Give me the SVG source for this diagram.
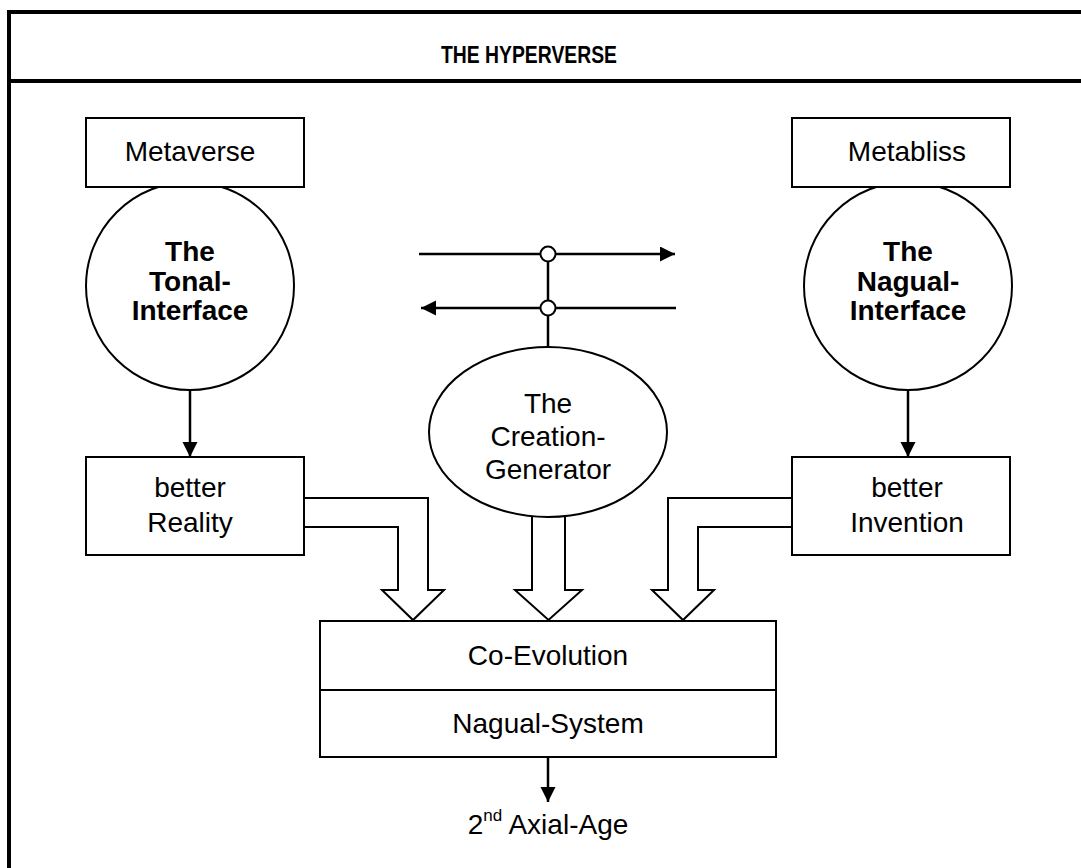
<svg xmlns="http://www.w3.org/2000/svg" width="1081" height="868" viewBox="0 0 1081 868">
<style>
text{font-family:"Liberation Sans",Arial,sans-serif;font-size:28px;fill:#000;text-anchor:middle}
.b{font-weight:bold}
.t{font-weight:bold;font-size:23px}
.box{fill:#fff;stroke:#000;stroke-width:2}
.ln{fill:none;stroke:#000;stroke-width:2.5}
.blk{fill:#fff;stroke:#000;stroke-width:2;stroke-linejoin:miter}
.dot{fill:#fff;stroke:#000;stroke-width:2}
</style>
<defs>
<marker id="ah" markerUnits="userSpaceOnUse" markerWidth="16" markerHeight="16" refX="15" refY="7.5" orient="auto">
<path d="M0,0 L15,7.5 L0,15 z" fill="#000"/>
</marker>
</defs>
<rect width="1081" height="868" fill="#fff"/>
<g id="frame">
<rect x="9" y="12" width="1078" height="870" fill="none" stroke="#000" stroke-width="4"/>
<line x1="9" y1="81" x2="1087" y2="81" stroke="#000" stroke-width="4"/>
<text class="t" x="529" y="63" textLength="176" lengthAdjust="spacingAndGlyphs">THE HYPERVERSE</text>
</g>
<g id="connectors">
<line class="ln" x1="190" y1="390" x2="190" y2="457" marker-end="url(#ah)"/>
<line class="ln" x1="908" y1="390" x2="908" y2="457" marker-end="url(#ah)"/>
<line class="ln" x1="419" y1="254" x2="675" y2="254" marker-end="url(#ah)"/>
<line class="ln" x1="676" y1="308" x2="421" y2="308" marker-end="url(#ah)"/>
<line class="ln" x1="548" y1="254" x2="548" y2="350"/>
<circle class="dot" cx="548" cy="254" r="7.5"/>
<circle class="dot" cx="548" cy="308" r="7.5"/>
<path class="blk" d="M304,498 H428 V590 H444 L413,620 L382,590 H398 V527 H304"/>
<path class="blk" d="M532,505 V590 H515 L548.5,620 L582,590 H565 V505"/>
<path class="blk" d="M792,498 H668 V590 H652 L683,620 L714,590 H698 V527 H792"/>
<line class="ln" x1="548" y1="757" x2="548" y2="802" marker-end="url(#ah)"/>
</g>
<g id="tonal">
<circle class="box" cx="190" cy="286" r="104"/>
<text class="b" x="190" y="261">The</text>
<text class="b" x="190" y="291">Tonal-</text>
<text class="b" x="190" y="320">Interface</text>
</g>
<g id="metaverse">
<rect class="box" x="86" y="118" width="218" height="69"/>
<text x="190" y="161">Metaverse</text>
</g>
<g id="nagual">
<circle class="box" cx="908" cy="286" r="104"/>
<text class="b" x="908" y="261">The</text>
<text class="b" x="908" y="291">Nagual-</text>
<text class="b" x="908" y="320">Interface</text>
</g>
<g id="metabliss">
<rect class="box" x="792" y="118" width="218" height="69"/>
<text x="907" y="161">Metabliss</text>
</g>
<g id="reality">
<rect class="box" x="86" y="457" width="218" height="98"/>
<text x="190" y="497">better</text>
<text x="190" y="532">Reality</text>
</g>
<g id="invention">
<rect class="box" x="792" y="457" width="218" height="98"/>
<text x="907" y="497">better</text>
<text x="907" y="532">Invention</text>
</g>
<g id="generator">
<ellipse class="box" cx="548" cy="432" rx="119" ry="85"/>
<text x="548" y="413">The</text>
<text x="548" y="446">Creation-</text>
<text x="548" y="479">Generator</text>
</g>
<g id="coevolution">
<rect class="box" x="320" y="621" width="456" height="136"/>
<line x1="320" y1="690" x2="776" y2="690" stroke="#000" stroke-width="2"/>
<text x="548" y="665">Co-Evolution</text>
<text x="548" y="733">Nagual-System</text>
</g>
<g id="axial">
<text x="548" y="834">2<tspan font-size="17" dy="-13">nd</tspan><tspan dy="13"> Axial-Age</tspan></text>
</g>
</svg>
